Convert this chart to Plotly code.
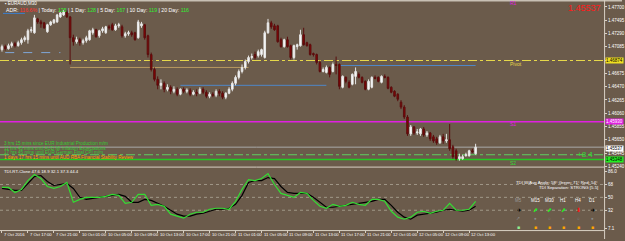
import plotly.graph_objects as go

W, H = 625, 241
BG = "#6b5b4b"
FONT = "Liberation Sans"

# ---------------- data ----------------
time_labels = ["7 Oct 2016", "7 Oct 17:00", "7 Oct 21:00", "10 Oct 01:00", "10 Oct 05:00",
               "10 Oct 09:00", "10 Oct 13:00", "10 Oct 17:00", "10 Oct 21:00", "11 Oct 01:00",
               "11 Oct 05:00", "11 Oct 09:00", "11 Oct 13:00", "11 Oct 17:00", "11 Oct 21:00",
               "12 Oct 01:00", "12 Oct 05:00", "12 Oct 09:00", "12 Oct 13:00"]
time_label_bars = list(range(0, 145, 8))

opens = [1.47042, 1.47088, 1.47057, 1.47103, 1.47134, 1.47103, 1.47149, 1.47195, 1.47195, 1.47333,
         1.47302, 1.47516, 1.47470, 1.47455, 1.47317, 1.47425, 1.47455, 1.47470, 1.47547, 1.47578,
         1.47623, 1.47547, 1.47226, 1.47164, 1.47195, 1.47149, 1.47180, 1.47195, 1.47302, 1.47348,
         1.47256, 1.47333, 1.47302, 1.47394, 1.47425, 1.47348, 1.47409, 1.47394, 1.47256, 1.47287,
         1.47302, 1.47302, 1.47226, 1.47409, 1.47425, 1.47256, 1.46966, 1.46736, 1.46583, 1.46491,
         1.46522, 1.46430, 1.46461, 1.46399, 1.46430, 1.46354, 1.46430, 1.46399, 1.46415, 1.46354,
         1.46384, 1.46369, 1.46430, 1.46384, 1.46323, 1.46354, 1.46338, 1.46399, 1.46369, 1.46308,
         1.46369, 1.46430, 1.46522, 1.46614, 1.46705, 1.46767, 1.46858, 1.46920, 1.46966, 1.46950,
         1.46966, 1.46920, 1.47302, 1.47455, 1.47409, 1.47409, 1.47195, 1.47088, 1.47195, 1.47103,
         1.46920, 1.47088, 1.47103, 1.47272, 1.47149, 1.47119, 1.46981, 1.46966, 1.46843, 1.46705,
         1.46690, 1.46767, 1.46705, 1.46813, 1.46813, 1.46461, 1.46614, 1.46537, 1.46507, 1.46629,
         1.46660, 1.46614, 1.46552, 1.46430, 1.46461, 1.46614, 1.46614, 1.46537, 1.46629, 1.46614,
         1.46461, 1.46399, 1.46354, 1.46231, 1.46155, 1.46002, 1.45742, 1.45849, 1.45757, 1.45742,
         1.45818, 1.45726, 1.45757, 1.45696, 1.45665, 1.45604, 1.45696, 1.45634, 1.45650, 1.45543,
         1.45481, 1.45359, 1.45359, 1.45405, 1.45405, 1.45481, 1.45436]
highs = [1.47119, 1.47119, 1.47134, 1.47164, 1.47164, 1.47180, 1.47226, 1.47256, 1.47363, 1.47394,
         1.47578, 1.47532, 1.47501, 1.47470, 1.47440, 1.47486, 1.47516, 1.47593, 1.47623, 1.47654,
         1.47654, 1.47562, 1.47272, 1.47241, 1.47226, 1.47210, 1.47256, 1.47348, 1.47379, 1.47363,
         1.47348, 1.47394, 1.47409, 1.47425, 1.47455, 1.47440, 1.47455, 1.47425, 1.47317, 1.47333,
         1.47333, 1.47317, 1.47501, 1.47470, 1.47440, 1.47272, 1.46996, 1.46767, 1.46629, 1.46583,
         1.46552, 1.46507, 1.46491, 1.46476, 1.46461, 1.46445, 1.46461, 1.46445, 1.46445, 1.46415,
         1.46430, 1.46461, 1.46461, 1.46415, 1.46384, 1.46384, 1.46430, 1.46430, 1.46399, 1.46384,
         1.46461, 1.46552, 1.46644, 1.46736, 1.46813, 1.46889, 1.46950, 1.46981, 1.47011, 1.47042,
         1.47057, 1.47333, 1.47516, 1.47486, 1.47440, 1.47425, 1.47226, 1.47210, 1.47241, 1.47119,
         1.47119, 1.47134, 1.47348, 1.47379, 1.47164, 1.47134, 1.46996, 1.46981, 1.46874, 1.46767,
         1.46797, 1.46782, 1.46843, 1.46935, 1.46828, 1.46644, 1.46629, 1.46568, 1.46675, 1.46767,
         1.46690, 1.46629, 1.46568, 1.46583, 1.46629, 1.46644, 1.46629, 1.46644, 1.46660, 1.46629,
         1.46476, 1.46415, 1.46369, 1.46262, 1.46185, 1.46032, 1.45879, 1.45864, 1.45818, 1.45833,
         1.45849, 1.45787, 1.45772, 1.45726, 1.45696, 1.45726, 1.45742, 1.45742, 1.45895, 1.45573,
         1.45512, 1.45436, 1.45420, 1.45451, 1.45497, 1.45512, 1.45589]
lows = [1.47011, 1.47027, 1.47042, 1.47073, 1.47073, 1.47088, 1.47119, 1.47164, 1.47134, 1.47302,
        1.47287, 1.47440, 1.47379, 1.47363, 1.47302, 1.47409, 1.47440, 1.47455, 1.47532, 1.47562,
        1.47532, 1.46813, 1.47103, 1.47134, 1.47103, 1.47119, 1.47149, 1.47180, 1.47272, 1.47226,
        1.47226, 1.47302, 1.47287, 1.47348, 1.47333, 1.47333, 1.47379, 1.47226, 1.47226, 1.47256,
        1.47241, 1.47180, 1.47210, 1.47379, 1.47195, 1.46920, 1.46705, 1.46552, 1.46430, 1.46430,
        1.46384, 1.46399, 1.46354, 1.46369, 1.46323, 1.46338, 1.46369, 1.46369, 1.46323, 1.46338,
        1.46323, 1.46354, 1.46354, 1.46292, 1.46292, 1.46308, 1.46308, 1.46323, 1.46277, 1.46277,
        1.46354, 1.46399, 1.46491, 1.46583, 1.46675, 1.46736, 1.46828, 1.46889, 1.46889, 1.46920,
        1.46935, 1.46904, 1.47287, 1.47363, 1.47333, 1.47149, 1.47073, 1.47073, 1.47073, 1.46889,
        1.46889, 1.47042, 1.47088, 1.47103, 1.47088, 1.46950, 1.46935, 1.46813, 1.46690, 1.46690,
        1.46675, 1.46614, 1.46690, 1.46660, 1.46430, 1.46445, 1.46522, 1.46445, 1.46491, 1.46507,
        1.46598, 1.46522, 1.46415, 1.46415, 1.46445, 1.46583, 1.46537, 1.46522, 1.46598, 1.46430,
        1.46369, 1.46308, 1.46246, 1.46124, 1.45971, 1.45711, 1.45711, 1.45726, 1.45726, 1.45711,
        1.45696, 1.45696, 1.45634, 1.45604, 1.45573, 1.45589, 1.45589, 1.45604, 1.45481, 1.45359,
        1.45328, 1.45328, 1.45344, 1.45390, 1.45390, 1.45451, 1.45420]
closes = [1.47088, 1.47057, 1.47103, 1.47134, 1.47103, 1.47149, 1.47195, 1.47226, 1.47333, 1.47348,
          1.47532, 1.47470, 1.47440, 1.47379, 1.47425, 1.47470, 1.47501, 1.47578, 1.47608, 1.47623,
          1.47547, 1.47226, 1.47164, 1.47195, 1.47149, 1.47180, 1.47226, 1.47333, 1.47348, 1.47241,
          1.47333, 1.47363, 1.47394, 1.47379, 1.47348, 1.47409, 1.47425, 1.47256, 1.47287, 1.47302,
          1.47272, 1.47195, 1.47470, 1.47440, 1.47226, 1.46966, 1.46736, 1.46583, 1.46491, 1.46522,
          1.46430, 1.46461, 1.46399, 1.46430, 1.46354, 1.46430, 1.46399, 1.46415, 1.46354, 1.46384,
          1.46369, 1.46430, 1.46384, 1.46323, 1.46354, 1.46338, 1.46399, 1.46369, 1.46308, 1.46369,
          1.46430, 1.46522, 1.46614, 1.46705, 1.46767, 1.46858, 1.46920, 1.46935, 1.46920, 1.47011,
          1.47042, 1.47302, 1.47455, 1.47394, 1.47348, 1.47164, 1.47088, 1.47195, 1.47088, 1.46920,
          1.47103, 1.47119, 1.47272, 1.47119, 1.47103, 1.46966, 1.46966, 1.46843, 1.46705, 1.46736,
          1.46767, 1.46660, 1.46813, 1.46797, 1.46476, 1.46629, 1.46552, 1.46461, 1.46660, 1.46705,
          1.46614, 1.46537, 1.46430, 1.46552, 1.46614, 1.46598, 1.46552, 1.46629, 1.46614, 1.46445,
          1.46384, 1.46323, 1.46277, 1.46155, 1.46002, 1.45742, 1.45849, 1.45757, 1.45772, 1.45818,
          1.45726, 1.45757, 1.45665, 1.45634, 1.45604, 1.45696, 1.45634, 1.45650, 1.45512, 1.45390,
          1.45359, 1.45390, 1.45390, 1.45420, 1.45481, 1.45466, 1.45537]
bars = list(range(len(closes)))

price_ticks = [1.47700, 1.47495, 1.47290, 1.47085, 1.46880, 1.46675, 1.46470, 1.46265,
               1.46060, 1.45855, 1.45650, 1.45445, 1.45240]
hidden_ticks = [1.46880]  # covered by the yellow pivot price box

pivot_level = 1.46874
s1_level = 1.45930
bid_level = 1.45537
ds_level = 1.45420
s2_level = 1.45348

# partial horizontal levels: (price, first bar, last bar, colour, dash)
segments = [(1.46996, 1, 18, "#7fa7d8", "dash"),
            (1.46767, 21, 76, "#b89a60", "solid"),
            (1.46491, 55, 100, "#4f86c6", "solid"),
            (1.46797, 104, 146, "#4f86c6", "solid")]

tdi_bars = list(range(0, 146, 2)) + [146]
tdi_green = [63.9, 63.9, 56.9, 61.1, 73.5, 81.9, 76.3, 65.2, 62.5, 65.2,
             70.8, 43.1, 47.2, 50.0, 50.0, 50.0, 51.4, 54.2, 52.8, 41.7,
             43.1, 54.2, 54.2, 38.9, 40.3, 37.5, 26.5, 23.7, 20.9, 26.5,
             29.2, 29.2, 33.4, 34.8, 34.8, 33.4, 44.5, 61.1, 74.9, 73.5,
             76.3, 83.2, 68.0, 55.5, 52.8, 50.0, 56.9, 55.5, 45.8, 37.5,
             34.8, 40.3, 37.5, 38.9, 43.1, 40.3, 38.9, 47.2, 47.2, 44.5,
             30.6, 22.3, 19.5, 22.3, 29.2, 30.6, 27.8, 30.6, 32.0, 41.7,
             32.0, 32.0, 33.4, 44.5]
tdi_black = [62.5, 61.1, 59.7, 59.7, 69.4, 79.1, 80.5, 72.2, 66.6, 68.0,
             69.4, 62.5, 50.0, 47.2, 48.6, 50.0, 51.4, 52.8, 54.2, 51.4,
             43.1, 43.1, 47.2, 45.8, 41.7, 37.5, 32.0, 26.5, 23.7, 23.7,
             26.5, 27.8, 30.6, 33.4, 33.4, 34.8, 40.3, 52.8, 70.8, 73.5,
             73.5, 77.7, 76.3, 65.2, 56.9, 55.5, 55.5, 55.5, 50.0, 43.1,
             36.2, 36.2, 37.5, 38.9, 40.3, 41.7, 43.1, 44.5, 47.2, 47.2,
             38.9, 29.2, 22.3, 19.5, 25.1, 26.5, 27.8, 29.2, 32.0, 33.4,
             32.0, 30.6, 32.0, 37.5]
tdi_levels = [68, 50, 32]
tdi_ticks = [86.0, 68, 50, 32, 7.1]
tdi_tick_text = ["86.0", "68", "50", "32", "7.1"]

tf_names = ["M5", "M15", "M30", "H1", "H4", "D1"]
tf_arrows = ["➜", "⬈", "⬈", "⬈", "⬇", "➜"]
tf_arrow_colors = ["#000000", "#22ee22", "#22ee22", "#22ee22", "#ff1010", "#000000"]
tf_dots = ["↗", "●", "○", "●", "○", "●"]
tf_squares = ["#90ee90", "#ffa500", "#ffa500", "#ffa500", "#ffa500", "#ffa500"]

# ---------------- layout geometry ----------------
def py(y):  # pixel row -> paper fraction
    return 1 - y / H

def px(x):
    return x / W

X_RANGE = [-0.61, 185.6]
Y_RANGE = [1.45237, 1.47777]
TDI_RANGE = [4.3, 90.2]

fig = go.Figure()

fig.add_trace(go.Candlestick(
    x=bars, open=opens, high=highs, low=lows, close=closes,
    increasing=dict(line=dict(color="#e6e6e6", width=1), fillcolor="#ffffff"),
    decreasing=dict(line=dict(color="#5a0f0f", width=1), fillcolor="#8b0000"),
    whiskerwidth=0, showlegend=False, hoverinfo="skip", xaxis="x", yaxis="y"))

fig.add_trace(go.Scatter(x=tdi_bars, y=tdi_black, mode="lines",
                         line=dict(color="#000000", width=1.2), xaxis="x2", yaxis="y2",
                         showlegend=False, hoverinfo="skip"))
fig.add_trace(go.Scatter(x=tdi_bars, y=tdi_green, mode="lines",
                         line=dict(color="#33dd33", width=1.2), xaxis="x2", yaxis="y2",
                         showlegend=False, hoverinfo="skip"))

shapes = []
def hline(level, color, dash="solid", width=1, ax="y"):
    shapes.append(dict(type="line", xref="paper", yref=ax, x0=0, x1=px(607),
                       y0=level, y1=level, line=dict(color=color, width=width, dash=dash),
                       layer="below"))

hline(pivot_level, "#e6d84a", "dashdot")
hline(s1_level, "#e020e0", "solid", 1.5)
hline(bid_level, "#a9a9a9", "solid")
hline(ds_level, "#5fcf5f", "dashdot")
hline(s2_level, "#22cc22", "solid", 1.5)
for lv in tdi_levels:
    hline(lv, "#a09888", "dot", 1, ax="y2")
for lv, b0, b1, col, dash in segments:
    shapes.append(dict(type="line", xref="x", yref="y", x0=b0, x1=b1, y0=lv, y1=lv,
                       line=dict(color=col, width=1, dash=dash), layer="below"))

# frame / separators
shapes.append(dict(type="line", xref="paper", yref="paper", x0=0, x1=1, y0=py(0.7), y1=py(0.7),
                   line=dict(color="#c8c0b4", width=1.5)))
shapes.append(dict(type="line", xref="paper", yref="paper", x0=0, x1=px(607), y0=py(168.5), y1=py(168.5),
                   line=dict(color="#d8d0c4", width=1)))
shapes.append(dict(type="line", xref="paper", yref="paper", x0=0, x1=px(607), y0=py(232.5), y1=py(232.5),
                   line=dict(color="#d8d0c4", width=1)))
shapes.append(dict(type="line", xref="paper", yref="paper", x0=px(607.5), x1=px(607.5), y0=0, y1=1,
                   line=dict(color="#d8d0c4", width=1)))

ann = []
def text(x, y, s, color="#ffffff", size=5, anchor="left", bg=None, yanchor="middle"):
    d = dict(x=px(x), y=py(y), xref="paper", yref="paper", text=s, showarrow=False,
             xanchor=anchor, yanchor=yanchor, font=dict(family=FONT, size=size, color=color))
    if bg:
        d.update(bgcolor=bg, borderpad=0)
    ann.append(d)

text(3, 4, "▪ EURAUD,M30", "#ffffff", 4.5)
text(4, 10, "ADR: <span style='color:#ff3030'>116.6%</span> | Today: <span style='color:#33ee33'>135</span>"
     " | 1 Day: <span style='color:#33ee33'>128</span> | 5 Day: <span style='color:#33ee33'>167</span>"
     " | 10 Day: <span style='color:#33ee33'>119</span> | 20 Day: <span style='color:#33ee33'>116</span>",
     "#ffffff", 5.2)
shapes.append(dict(type="line", xref="paper", yref="paper", x0=px(3), x1=px(25), y0=py(13.5), y1=py(13.5),
                   line=dict(color="#3a7fd0", width=1)))
text(606, 8, "1.45537", "#ff1a1a", 9, anchor="right")
text(510, 3, "R1", "#e020e0", 5)
text(510, 64.5, "Pivot", "#e6d84a", 5)
text(510, 125.5, "S1", "#e020e0", 5)
text(510, 164.5, "S2", "#33dd33", 5)
text(598, 155.5, "+8.4", "#33dd33", 8, anchor="right")

text(2, 145, "3 hrs 15 mins since EUR Industrial Production m/m", "#33cc33", 4.6)
text(2, 149.5, "11 hrs 45 mins until AUD MI Inflation Expectations", "#33cc33", 4.6)
text(2, 154, "17 hrs 45 mins until EUR German Final CPI m/m", "#33cc33", 4.6)
text(2, 158.5, "1 days 17 hrs 15 mins until AUD RBA Financial Stability Review", "#ffa500", 4.6)
text(2, 173, "TDI-RT-Clone 47.6 18.9 32.1 37.3 44.4", "#ffffff", 4.3)

text(603, 184, "TDI W/Avg Angle: 58° Green: 71° Red: 54°", "#ffffff", 4.3, anchor="right")
text(603, 189.5, "TDI Separation: STRONG [5.5]", "#ffffff", 4.3, anchor="right")
tf_x = [521, 538, 552, 566, 581, 595]
for i, name in enumerate(tf_names):
    text(tf_x[i], 202, name, "#9a9a9a" if i == 0 else "#ffffff", 4.5, anchor="center")
    text(tf_x[i], 212, tf_arrows[i], tf_arrow_colors[i], 6, anchor="center")
    text(tf_x[i], 220, tf_dots[i], "#8a8a8a", 4.5, anchor="center")
    text(tf_x[i], 229, "■", tf_squares[i], 5, anchor="center")

# colored price labels on axis
text(608, 61, "1.46874", "#000000", 4.5, bg="#f0e020")
text(608, 122.7, "1.45930", "#ffffff", 4.5, bg="#e020e0")
text(608, 149.8, "1.45537", "#000000", 4.5, bg="#ffffff")
text(608, 160.8, "1.45348", "#000000", 4.5, bg="#22ee22")

# time axis labels
for b, s in zip(time_label_bars, time_labels):
    ann.append(dict(x=b, y=py(236.5), xref="x2", yref="paper", text=s, showarrow=False,
                    xanchor="left", yanchor="middle", font=dict(family=FONT, size=4.2, color="#ffffff")))

fig.update_layout(
    width=W, height=H, margin=dict(l=0, r=0, t=0, b=0),
    paper_bgcolor=BG, plot_bgcolor=BG, showlegend=False,
    shapes=shapes, annotations=ann,
    xaxis=dict(domain=[0, px(607)], range=X_RANGE, showgrid=False, zeroline=False,
               showticklabels=False, rangeslider=dict(visible=False), fixedrange=True),
    yaxis=dict(domain=[py(168), py(2)], range=Y_RANGE, side="right", showgrid=False,
               zeroline=False, tickvals=price_ticks,
               ticktext=["" if v in hidden_ticks else f"{v:.5f}" for v in price_ticks],
               ticks="outside", ticklen=2, tickcolor="#d8d0c4",
               tickfont=dict(family=FONT, size=4.5, color="#ffffff")),
    xaxis2=dict(domain=[0, px(607)], range=X_RANGE, anchor="y2", showgrid=False, zeroline=False,
                tickvals=time_label_bars, ticktext=[""] * len(time_label_bars),
                ticks="outside", ticklen=2, tickcolor="#d8d0c4"),
    yaxis2=dict(domain=[py(232), py(170)], range=TDI_RANGE, side="right", showgrid=False,
                zeroline=False, tickvals=tdi_ticks, ticktext=tdi_tick_text,
                ticks="outside", ticklen=2, tickcolor="#d8d0c4",
                tickfont=dict(family=FONT, size=4.5, color="#ffffff")),
)

fig.write_html("out.html")
